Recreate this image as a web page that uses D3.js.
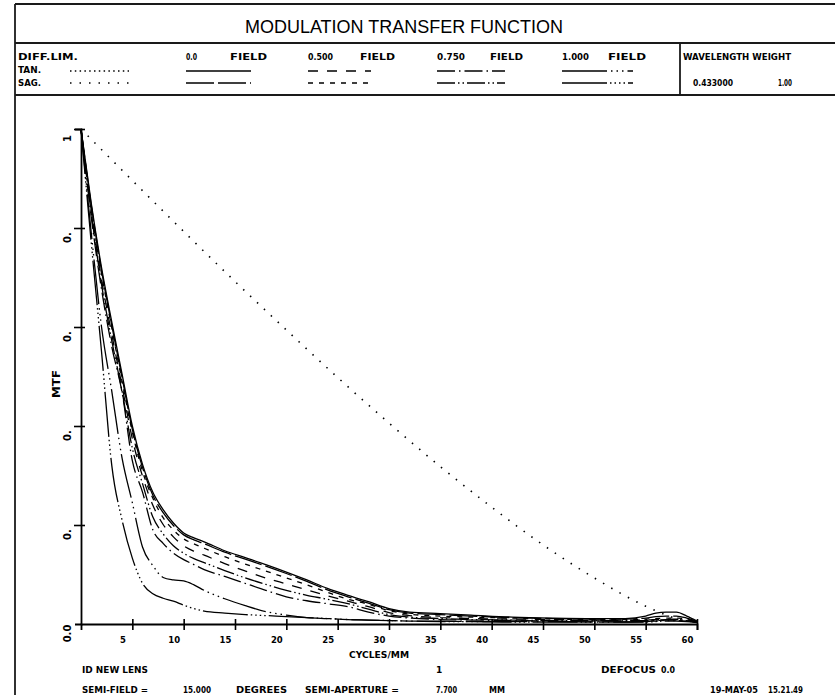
<!DOCTYPE html>
<html><head><meta charset="utf-8">
<script src="https://cdn.jsdelivr.net/npm/d3@7"></script>
<style>body{margin:0;background:#fff}svg{display:block}</style>
</head><body><svg id="c" width="835" height="695"></svg>
<script>
// ---------------- data ----------------
const freq = [0,1,2,3,4,5,6,7,8,9,10,11,12,14,16,18,20,22,24,26,28,30,32,35,38,42,46,50,53,55,56,57,58,59,60];
const field000Tan = [1.000,0.850,0.720,0.610,0.505,0.400,0.322,0.266,0.231,0.204,0.184,0.174,0.166,0.148,0.134,0.120,0.105,0.089,0.072,0.058,0.045,0.031,0.024,0.021,0.018,0.014,0.012,0.011,0.011,0.016,0.022,0.024,0.024,0.016,0.006];
const field000Sag = [1.000,0.846,0.714,0.603,0.498,0.393,0.316,0.260,0.225,0.199,0.180,0.170,0.162,0.145,0.131,0.117,0.102,0.086,0.069,0.055,0.042,0.029,0.022,0.019,0.016,0.013,0.011,0.010,0.010,0.012,0.015,0.016,0.016,0.012,0.005];
const field050Sag = [1.000,0.843,0.708,0.598,0.490,0.388,0.308,0.254,0.215,0.190,0.172,0.162,0.153,0.136,0.121,0.107,0.093,0.079,0.064,0.050,0.040,0.027,0.020,0.016,0.014,0.012,0.010,0.009,0.009,0.010,0.011,0.012,0.012,0.010,0.006];
const field050Tan = [1.000,0.836,0.696,0.585,0.480,0.374,0.298,0.240,0.201,0.176,0.158,0.147,0.139,0.122,0.107,0.093,0.081,0.069,0.057,0.046,0.035,0.023,0.017,0.013,0.011,0.010,0.009,0.008,0.008,0.008,0.009,0.010,0.010,0.008,0.005];
const field075Sag = [1.000,0.830,0.686,0.572,0.470,0.355,0.283,0.216,0.182,0.158,0.143,0.132,0.124,0.108,0.093,0.080,0.068,0.058,0.050,0.041,0.030,0.019,0.014,0.011,0.009,0.008,0.007,0.007,0.007,0.007,0.008,0.009,0.009,0.007,0.004];
const field075Tan = [1.000,0.822,0.676,0.560,0.468,0.330,0.266,0.190,0.163,0.143,0.130,0.120,0.110,0.096,0.082,0.068,0.055,0.047,0.041,0.035,0.024,0.016,0.012,0.009,0.008,0.007,0.006,0.006,0.006,0.006,0.007,0.008,0.008,0.006,0.004];
const field100Tan = [1.000,0.790,0.600,0.470,0.335,0.245,0.155,0.118,0.094,0.089,0.087,0.079,0.068,0.051,0.037,0.025,0.018,0.013,0.011,0.009,0.008,0.007,0.006,0.006,0.005,0.005,0.005,0.004,0.004,0.005,0.006,0.007,0.007,0.006,0.004];
const field100Sag = [1.000,0.770,0.550,0.320,0.210,0.133,0.082,0.061,0.052,0.046,0.038,0.031,0.026,0.022,0.019,0.017,0.015,0.013,0.011,0.009,0.008,0.007,0.006,0.005,0.005,0.004,0.004,0.004,0.004,0.004,0.005,0.006,0.006,0.005,0.003];
const diffFreq = [0,5,10,15,20,25,30,35,40,45,50,55,58,60];
const diffLimit = [1.000,0.896,0.793,0.692,0.594,0.498,0.406,0.318,0.236,0.160,0.093,0.036,0.011,0.003];

const xTicks = [5,10,15,20,25,30,35,40,45,50,55,60];
const xTickLabels = ["5","10","15","20","25","30","35","40","45","50","55","60"];
const yTicks = [0,0.2,0.4,0.6,0.8,1.0];
const yTickLabels = ["0.0","0.","0.","0.","0.","1"];

const fieldLabels = ["0.0","0.500","0.750","1.000"];
const wavelength = "0.433000";
const weight = "1.00";

// ---------------- styles ----------------
const dash = {
  solid: null,
  longDash: "28,4",
  medDash: "10,9",
  shortDash: "5,6",
  dashDot: "18,4,1.5,4",
  dashDotDot: "18,3,1.5,3,1.5,3",
  dash3Dot: "45,4,1.5,4,1.5,4,1.5,4",
  dash4Dot: "45,3,1.5,3,1.5,3,1.5,3,1.5,3",
  tanDots: "1.5,3.3",
  sagDots: "1.5,8"
};
const series = [
  {v: field100Sag, d: dash.dash4Dot},
  {v: field100Tan, d: dash.dash3Dot},
  {v: field075Tan, d: dash.dashDot},
  {v: field075Sag, d: dash.dashDotDot},
  {v: field050Tan, d: dash.medDash},
  {v: field050Sag, d: dash.shortDash},
  {v: field000Sag, d: dash.longDash},
  {v: field000Tan, d: dash.solid}
];

const svg = d3.select("#c");
const FONT = "'Liberation Sans', Arial, sans-serif";
const SMALL = "'DejaVu Sans', 'Liberation Sans', sans-serif";

// frame
const frame = svg.append("g").attr("stroke","#1a1a1a").attr("stroke-width",1.8).attr("fill","none");
frame.append("line").attr("x1",15).attr("y1",4).attr("x2",835).attr("y2",4);
frame.append("line").attr("x1",15).attr("y1",4).attr("x2",15).attr("y2",695);
frame.append("line").attr("x1",15).attr("y1",43).attr("x2",835).attr("y2",43);
frame.append("line").attr("x1",15).attr("y1",95).attr("x2",835).attr("y2",95);
frame.append("line").attr("x1",680).attr("y1",43).attr("x2",680).attr("y2",95);

function txt(s, x, yy, w, size, weight, anchor, fam){
  const t = svg.append("text").attr("x",x).attr("y",yy)
    .attr("font-family",fam||SMALL).attr("font-size",size||9).attr("font-weight",weight||"bold")
    .attr("dominant-baseline","central").attr("fill","#000").text(s);
  if (anchor) t.attr("text-anchor",anchor);
  if (w) t.attr("textLength",w).attr("lengthAdjust","spacingAndGlyphs");
  return t;
}

// title
txt("MODULATION TRANSFER FUNCTION", 245, 27, 318, 17.5, "normal", null, FONT);

// header
txt("DIFF.LIM.", 18, 57, 60, 9);
txt("TAN.", 18, 70, 23, 9);
txt("SAG.", 18, 83, 23, 9);
svg.append("line").attr("x1",70).attr("x2",129).attr("y1",71).attr("y2",71)
  .attr("stroke","#000").attr("stroke-width",1.5).attr("stroke-dasharray",dash.tanDots);
svg.append("line").attr("x1",70).attr("x2",129).attr("y1",83).attr("y2",83)
  .attr("stroke","#000").attr("stroke-width",1.5).attr("stroke-dasharray",dash.sagDots);

const legendCols = [
  {lx:186, lw:11, fx:230, fw:37, l0:186, l1:251, tan:dash.solid, sag:dash.longDash},
  {lx:308, lw:25, fx:360, fw:35, l0:308, l1:371, tan:dash.medDash, sag:dash.shortDash},
  {lx:437, lw:28, fx:490, fw:33, l0:437, l1:505, tan:dash.dashDot, sag:dash.dashDotDot},
  {lx:562, lw:27, fx:608, fw:38, l0:562, l1:633, tan:dash.dash3Dot, sag:dash.dash4Dot}
];
legendCols.forEach((c,i)=>{
  txt(fieldLabels[i], c.lx, 57, c.lw, 9);
  txt("FIELD", c.fx, 57, c.fw, 9);
  svg.append("line").attr("x1",c.l0).attr("x2",c.l1).attr("y1",71).attr("y2",71)
    .attr("stroke","#000").attr("stroke-width",1.3).attr("stroke-dasharray",c.tan);
  svg.append("line").attr("x1",c.l0).attr("x2",c.l1).attr("y1",83).attr("y2",83)
    .attr("stroke","#000").attr("stroke-width",1.3).attr("stroke-dasharray",c.sag);
});
txt("WAVELENGTH WEIGHT", 683, 57, 108, 9);
txt(wavelength, 693, 83, 40, 9);
txt(weight, 778, 83, 14, 9);

// ---------------- plot ----------------
const x = d3.scaleLinear().domain([0,60]).range([81,697]);
const y = d3.scaleLinear().domain([0,1]).range([624,129]);

const xAxis = svg.append("g").attr("transform","translate(0,624)")
  .call(d3.axisBottom(x).tickValues(xTicks).tickFormat((d,i)=>xTickLabels[i]).tickSizeOuter(0).tickSize(6));
xAxis.select(".domain").attr("stroke","#000").attr("stroke-width",1.8);
xAxis.selectAll(".tick line").attr("y1",-5).attr("y2",6).attr("stroke","#000").attr("stroke-width",1.6);
xAxis.selectAll(".tick text").attr("x",-10).attr("y",16).attr("dy",null)
  .attr("dominant-baseline","central")
  .attr("font-family",SMALL).attr("font-size",8.5).attr("font-weight","bold").attr("fill","#000");

const yAxis = svg.append("g").attr("transform","translate(81,0)")
  .call(d3.axisLeft(y).tickValues(yTicks).tickFormat((d,i)=>yTickLabels[i]).tickSizeOuter(0).tickSize(6));
yAxis.select(".domain").attr("stroke","#000").attr("stroke-width",1.8);
yAxis.selectAll(".tick line").attr("x1",4).attr("x2",-7).attr("stroke","#000").attr("stroke-width",1.6);
yAxis.selectAll(".tick").filter(d=>d===0).select("line").remove();
yAxis.selectAll(".tick text")
  .attr("x",null).attr("y",null).attr("dy",null)
  .attr("text-anchor","middle").attr("dominant-baseline","central")
  .attr("transform","translate(-14,9) rotate(-90)")
  .attr("font-family",SMALL).attr("font-size",10).attr("font-weight","bold").attr("fill","#000");

// axis titles
svg.append("text").attr("transform","translate(56,384) rotate(-90)")
  .attr("text-anchor","middle").attr("dominant-baseline","central")
  .attr("font-family",SMALL).attr("font-size",10).attr("font-weight","bold")
  .attr("textLength",28).attr("lengthAdjust","spacingAndGlyphs").text("MTF");
txt("CYCLES/MM", 349, 655, 60, 9);

// diffraction limit
const dline = d3.line().x((d,i)=>x(diffFreq[i])).y(d=>y(d)).curve(d3.curveMonotoneX);
svg.append("path").attr("d",dline(diffLimit)).attr("fill","none")
  .attr("stroke","#000").attr("stroke-width",1.6).attr("stroke-dasharray",dash.sagDots);

// MTF curves
const line = d3.line().x((d,i)=>x(freq[i])).y(d=>y(d)).curve(d3.curveMonotoneX);
svg.append("g").selectAll("path").data(series).join("path")
  .attr("d",s=>line(s.v)).attr("fill","none").attr("stroke","#000")
  .attr("stroke-width",1.3).attr("stroke-dasharray",s=>s.d);

// footer
txt("ID NEW LENS", 82, 670, 66, 9);
txt("1", 436, 670, null, 9);
txt("DEFOCUS", 601, 670, 55, 9);
txt("0.0", 661, 670, 14, 9);
txt("SEMI-FIELD =", 82, 690, 66, 9);
txt("15.000", 183, 690, 28, 9);
txt("DEGREES", 236, 690, 51, 9);
txt("SEMI-APERTURE =", 305, 690, 94, 9);
txt("7.700", 436, 690, 21, 9);
txt("MM", 489, 690, 16, 9);
txt("19-MAY-05", 710, 690, 48, 9);
txt("15.21.49", 768, 690, 35, 9);
</script></body></html>
